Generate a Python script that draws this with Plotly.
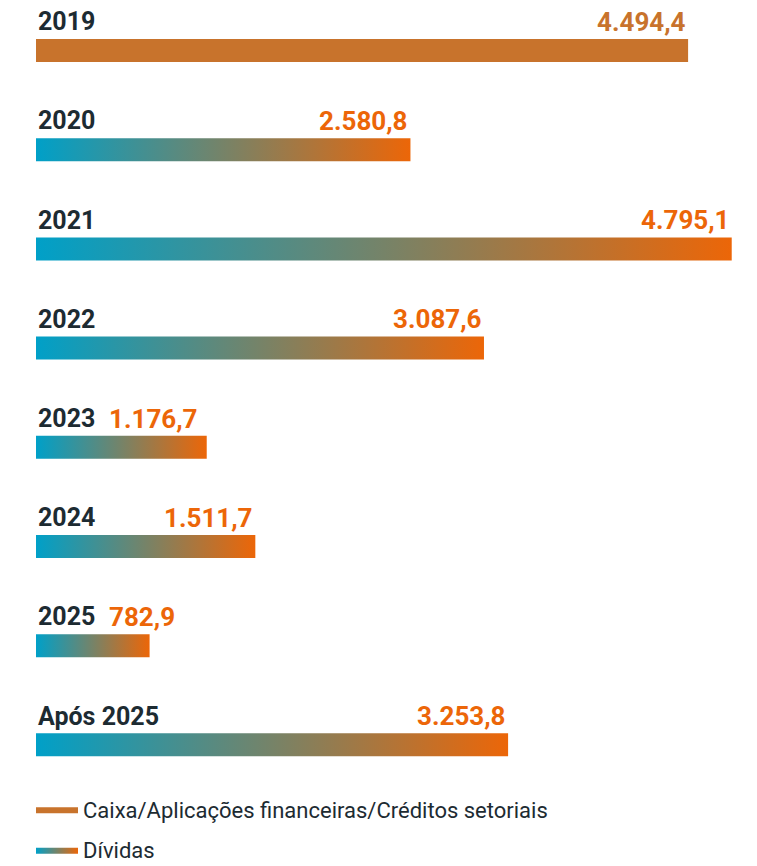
import plotly.graph_objects as go

categories = ["2019", "2020", "2021", "2022", "2023", "2024", "2025", "Após 2025"]
values = [4494.4, 2580.8, 4795.1, 3087.6, 1176.7, 1511.7, 782.9, 3253.8]
series = ["Caixa", "Dívidas", "Dívidas", "Dívidas", "Dívidas", "Dívidas", "Dívidas", "Dívidas"]
value_labels = ["4.494,4", "2.580,8", "4.795,1", "3.087,6", "1.176,7", "1.511,7", "782,9", "3.253,8"]
legend_names = {"Caixa": "Caixa/Aplicações financeiras/Créditos setoriais", "Dívidas": "Dívidas"}
# labels placed right after the category name instead of at the bar end
label_after_name = {"2023", "2025"}

SOLID = "#C8732C"
GRAD_START = "#00A0C8"
GRAD_END = "#EC6608"
DARK = "#1D2B32"
FONT = "Roboto"
H = 0.116  # half bar thickness in category units

fig = go.Figure()
shown = set()
for i, (cat, v, s) in enumerate(zip(categories, values, series)):
    xs = [0, v, v, 0, 0]
    ys = [i - H, i - H, i + H, i + H, i - H]
    kw = dict(x=xs, y=ys, mode="lines", fill="toself",
              line=dict(width=0, color="rgba(0,0,0,0)"),
              name=legend_names[s], legendgroup=s,
              showlegend=s not in shown, hoverinfo="skip")
    if s == "Caixa":
        kw["fillcolor"] = SOLID
    else:
        kw["fillgradient"] = dict(type="horizontal",
                                  colorscale=[[0, GRAD_START], [1, GRAD_END]])
    shown.add(s)
    fig.add_trace(go.Scatter(**kw))

    fig.add_annotation(x=0, y=i - 0.29, xref="x", yref="y", text=f"<b>{cat}</b>",
                       showarrow=False, xanchor="left", yanchor="middle",
                       font=dict(family=FONT, size=25, color=DARK))
    vcol = SOLID if s == "Caixa" else GRAD_END
    if cat in label_after_name:
        fig.add_annotation(x=0, y=i - 0.29, xref="x", yref="y", xshift=71,
                           text=f"<b>{value_labels[i]}</b>",
                           showarrow=False, xanchor="left", yanchor="middle",
                           font=dict(family=FONT, size=26, color=vcol))
    else:
        fig.add_annotation(x=v, y=i - 0.29, xref="x", yref="y",
                           text=f"<b>{value_labels[i]}</b>",
                           showarrow=False, xanchor="right", yanchor="middle",
                           font=dict(family=FONT, size=26, color=vcol))

fig.update_layout(
    width=757, height=866,
    margin=dict(l=28, r=33, t=0, b=0),
    paper_bgcolor="white", plot_bgcolor="white",
    xaxis=dict(range=[0, 4797], visible=False, fixedrange=True),
    yaxis=dict(range=[8.302, -0.4284], visible=False, fixedrange=True),
    showlegend=True,
    legend=dict(x=0, y=0.003, xanchor="left", yanchor="bottom",
                orientation="v", traceorder="grouped", tracegroupgap=9,
                indentation=-5,
                font=dict(family=FONT, size=22, color=DARK),
                bgcolor="rgba(0,0,0,0)", itemwidth=42),
)

fig.write_html("out.html")
